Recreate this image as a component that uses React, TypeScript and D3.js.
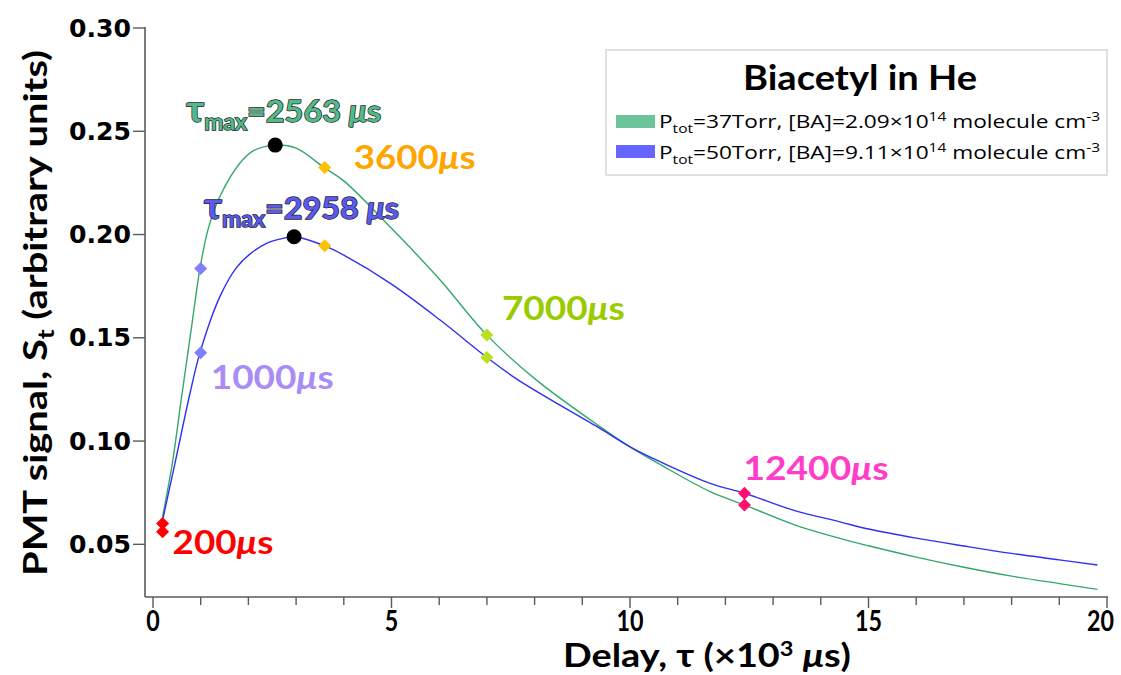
import React from "react";
import * as d3 from "d3";

// ---- data ----
const greenTau = [0.2, 0.405, 0.6, 0.81, 0.985, 1.16, 1.4, 1.82, 2.1, 2.563, 3.0, 3.59, 4.0, 5.0, 6.02, 7.0, 8.04, 9.37, 10, 10.63, 11.68, 12.41, 13.42, 14.4, 15, 16, 17, 18, 19, 19.8];
const greenS = [0.0633, 0.0892, 0.1215, 0.1555, 0.1836, 0.203, 0.2183, 0.2345, 0.2405, 0.2433, 0.2418, 0.2324, 0.226, 0.203, 0.178, 0.1513, 0.1295, 0.107, 0.0972, 0.0887, 0.0755, 0.069, 0.0597, 0.0529, 0.0493, 0.0438, 0.0389, 0.0346, 0.031, 0.0282];
const blueTau = [0.21, 0.46, 0.78, 0.985, 1.4, 1.75, 2.03, 2.4, 2.66, 2.958, 3.59, 4.0, 5.0, 6.02, 7.0, 7.66, 9.37, 10, 10.63, 11.68, 12.41, 13.42, 14.4, 15, 16, 17, 18, 19, 19.8];
const blueS = [0.0626, 0.0892, 0.1235, 0.1428, 0.1698, 0.184, 0.1905, 0.196, 0.1978, 0.1989, 0.1946, 0.19, 0.176, 0.1586, 0.1405, 0.1295, 0.1061, 0.0972, 0.09, 0.0795, 0.0747, 0.0666, 0.0609, 0.0574, 0.053, 0.0492, 0.0456, 0.0425, 0.04];

const markerTaus = [0.2, 1.0, 3.6, 7.0, 12.4];
const markerLabels = ["200", "1000", "3600", "7000", "12400"];
const markerGreen = [0.0601, 0.1836, 0.2324, 0.1513, 0.069];
const markerBlue = [0.0561, 0.1428, 0.1946, 0.1405, 0.0747];
const markerColors = ["#ff0000", "#7f7fff", "#ffc000", "#b9e01e", "#ff0f70"];
const markerTextColors = ["#ff0000", "#a98cf7", "#ffa500", "#99cc00", "#ff3dc8"];

const peakTaus = [2.563, 2.958];
const peakS = [0.2433, 0.1989];
const peakLabels = ["2563", "2958"];

const xTicks = [0, 5, 10, 15, 20];
const yTicks = [0.05, 0.1, 0.15, 0.2, 0.25, 0.3];

const seriesNames = ["37Torr, [BA]=2.09×10", "50Torr, [BA]=9.11×10"];

const W = 1121, H = 675;
const x = d3.scaleLinear().domain([0, 20]).range([153, 1107]);
const y = d3.scaleLinear().domain([0.0245, 0.3]).range([597, 28]);

const GREEN_LINE = "#33a86c";
const BLUE_LINE = "#3030f0";

export default function App() {
  const gPath = d3
    .line<number>()
    .curve(d3.curveCatmullRom.alpha(0.5))
    .x((_, i) => x(greenTau[i]))
    .y((_, i) => y(greenS[i]))(greenS as any);
  const bPath = d3
    .line<number>()
    .curve(d3.curveCatmullRom.alpha(0.5))
    .x((_, i) => x(blueTau[i]))
    .y((_, i) => y(blueS[i]))(blueS as any);

  const minorTicks = d3.range(0, 21, 1);
  const diamond = (r: number) => `M0,${-r}L${r},0L0,${r}L${-r},0Z`;
  const axisColor = "#5a5a5a";

  // label offsets (pixels) relative to a marker
  const labelPos = [
    { dx: 10, dy: 31, ref: 0 },
    { dx: 10, dy: 36, ref: 1 },
    { dx: 29, dy: 1, ref: 0 },
    { dx: 15, dy: -15, ref: 0 },
    { dx: -1, dy: -13, ref: 1 },
  ];
  const labelWidths = [101, 123, 122, 123, 145];

  return (
    <svg width={W} height={H} style={{ position: "absolute", left: 0, top: 0, background: "#fff" }} fontFamily="Lato, 'Open Sans', sans-serif">
      {/* axes */}
      <line x1={145} x2={145} y1={27} y2={597} stroke={axisColor} strokeWidth={1.6} />
      <line x1={145} x2={1108} y1={597} y2={597} stroke={axisColor} strokeWidth={1.6} />
      {yTicks.map((t) => (
        <g key={t}>
          <line x1={133} x2={145} y1={y(t)} y2={y(t)} stroke={axisColor} strokeWidth={1.4} />
          <text x={131} y={y(t)} dy="0.36em" textAnchor="end" fontFamily="'DejaVu Sans', sans-serif" fontWeight="bold" fontSize={24} textLength={62} lengthAdjust="spacingAndGlyphs">
            {t.toFixed(2)}
          </text>
        </g>
      ))}
      {minorTicks.map((t) => (
        <line key={t} x1={x(t)} x2={x(t)} y1={597} y2={t % 5 === 0 ? 608 : 605} stroke={axisColor} strokeWidth={1.4} />
      ))}
      {xTicks.map((t) => {
        const last = t === 20;
        return (
          <text key={t} x={last ? 1114 : x(t)} y={631} textAnchor={last ? "end" : "middle"} fontWeight="bold" fontSize={29} textLength={String(t).length * 13.5} lengthAdjust="spacingAndGlyphs">
            {t}
          </text>
        );
      })}
      {/* axis titles */}
      <text x={707} y={667} textAnchor="middle" fontWeight="bold" fontSize={32} textLength={288} lengthAdjust="spacingAndGlyphs">
        Delay, τ (×10<tspan dy={-11} fontSize={20}>3</tspan><tspan dy={11}> </tspan><tspan fontStyle="italic">μ</tspan>s)
      </text>
      <text transform="translate(47,313) rotate(-90)" textAnchor="middle" fontWeight="bold" fontSize={33} textLength={526} lengthAdjust="spacingAndGlyphs">
        PMT signal, S<tspan dy={7} fontSize={22}>t</tspan><tspan dy={-7}> (arbitrary units)</tspan>
      </text>

      {/* curves */}
      <path d={gPath || ""} fill="none" stroke={GREEN_LINE} strokeWidth={1.4} />
      <path d={bPath || ""} fill="none" stroke={BLUE_LINE} strokeWidth={1.4} />

      {/* markers */}
      {markerTaus.map((t, i) => (
        <g key={t}>
          <path d={diamond(6.5)} transform={`translate(${x(t)},${y(markerGreen[i])})`} fill={markerColors[i]} />
          <path d={diamond(6.5)} transform={`translate(${x(t)},${y(markerBlue[i])})`} fill={markerColors[i]} />
        </g>
      ))}
      {peakTaus.map((t, i) => (
        <circle key={t} cx={x(t)} cy={y(peakS[i])} r={7.5} fill="#000" />
      ))}

      {/* marker labels */}
      {markerTaus.map((t, i) => {
        const p = labelPos[i];
        const v = p.ref === 0 ? markerGreen[i] : markerBlue[i];
        return (
          <text key={t} x={x(t) + p.dx} y={y(v) + p.dy} fill={markerTextColors[i]} fontWeight="bold" fontSize={33} textLength={labelWidths[i]} lengthAdjust="spacingAndGlyphs">
            {markerLabels[i]}
            <tspan fontStyle="italic">μ</tspan>s
          </text>
        );
      })}

      {/* tau max labels */}
      {peakTaus.map((t, i) => {
        const fill = i === 0 ? "#55b888" : "#5a5af0";
        const px = x(t) + (i === 0 ? -89 : -90);
        const py = y(peakS[i]) + (i === 0 ? -23 : -18);
        return (
          <text key={t} x={px} y={py} fill={fill} stroke="#1e1e1e" strokeWidth={1.4} paintOrder="stroke" fontWeight="bold" fontSize={31} textLength={195} lengthAdjust="spacingAndGlyphs">
            <tspan fontSize={36}>τ</tspan><tspan dy={8} fontSize={22}>max</tspan>
            <tspan dy={-8}>={peakLabels[i]} </tspan>
            <tspan fontStyle="italic">μ</tspan>s
          </text>
        );
      })}

      {/* legend */}
      <rect x={606} y={50} width={501} height={125} fill="#fff" stroke="#e0e0e0" strokeWidth={2} />
      <text x={860} y={90} textAnchor="middle" fontWeight="bold" fontSize={34} textLength={234} lengthAdjust="spacingAndGlyphs">
        Biacetyl in He
      </text>
      {seriesNames.map((s, i) => (
        <g key={s}>
          <rect x={616} y={115 + i * 30} width={39} height={13} fill={i === 0 ? "#6cc49a" : "#6666ff"} />
          <text x={659} y={127.5 + i * 31} fontSize={19} fontFamily="'Open Sans', sans-serif" textLength={441} lengthAdjust="spacingAndGlyphs">
            P<tspan dy={5} fontSize={13}>tot</tspan>
            <tspan dy={-5}>={s}</tspan>
            <tspan dy={-7} fontSize={13}>14</tspan>
            <tspan dy={7}> molecule cm</tspan>
            <tspan dy={-7} fontSize={13}>-3</tspan>
          </text>
        </g>
      ))}
    </svg>
  );
}
